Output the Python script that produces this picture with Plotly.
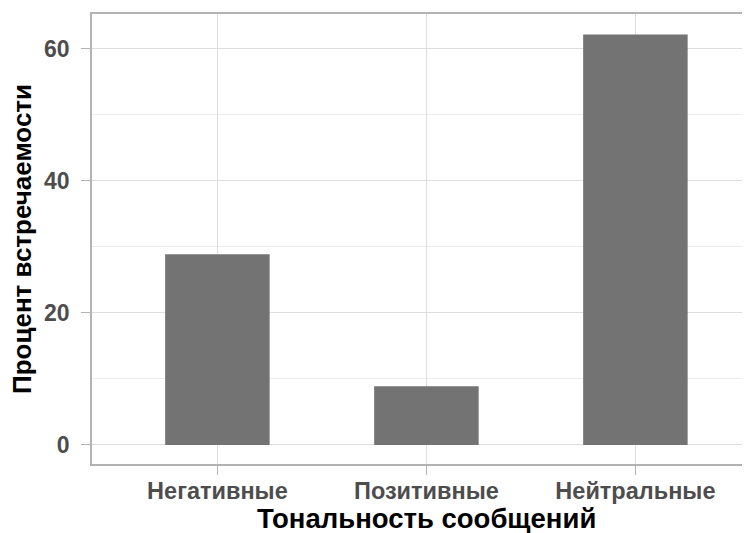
import plotly.graph_objects as go

categories = ["Негативные", "Позитивные", "Нейтральные"]
values = [28.9, 8.9, 62.2]
y_ticks = [0, 20, 40, 60]
y_minor = [10, 30, 50]
x_title = "Тональность сообщений"
y_title = "Процент встречаемости"

FONT = "Liberation Sans, Arial, sans-serif"

# the page body has an 8px margin, so the figure is sized/offset to compensate
W, H = 742, 525
ML, MT, MB = 84, 6, 69
PW = W - ML
PH = H - MT - MB

fig = go.Figure(go.Bar(
    x=list(range(len(categories))), y=values,
    width=0.5, marker=dict(color="#737373", line=dict(width=0)),
))

fig.update_layout(
    width=W, height=H,
    margin=dict(l=ML, r=0, t=MT, b=MB, autoexpand=False),
    paper_bgcolor="white", plot_bgcolor="white",
    showlegend=False,
    font=dict(family=FONT),
    annotations=[
        dict(text=x_title, xref="paper", yref="paper", x=(761 - 92) / 2 / PW, y=-54 / PH,
             xanchor="center", yanchor="middle", showarrow=False,
             font=dict(size=27.5, color="black", weight="bold")),
        dict(text=y_title, xref="paper", yref="paper", x=-70 / PW, y=0.5,
             xanchor="center", yanchor="middle", showarrow=False, textangle=-90,
             font=dict(size=26, color="black", weight="bold")),
    ],
)
fig.update_xaxes(
    range=[-0.6, -0.6 + PW / 209], automargin=False,
    tickmode="array", tickvals=list(range(len(categories))), ticktext=categories,
    showgrid=True, gridcolor="#dedede", gridwidth=1.3,
    ticks="outside", ticklen=9, tickcolor="#b3b3b3", tickwidth=1.3,
    tickfont=dict(size=23.5, color="#4d4d4d", weight="bold"),
    ticklabelstandoff=-4,
    showline=True, linecolor="#b3b3b3", linewidth=1.6, mirror=True,
    zeroline=False,
)
fig.update_yaxes(
    range=[-2.88, 65.3], automargin=False,
    tickmode="array", tickvals=y_ticks,
    showgrid=True, gridcolor="#dedede", gridwidth=1.3,
    minor=dict(tickvals=y_minor, showgrid=True, gridcolor="#ededed", gridwidth=1.1, ticks=""),
    ticks="outside", ticklen=9, tickcolor="#b3b3b3", tickwidth=1.3,
    tickfont=dict(size=23, color="#4d4d4d", weight="bold"),
    ticklabelstandoff=7,
    showline=True, linecolor="#b3b3b3", linewidth=1.6, mirror=False,
    zeroline=False,
)

fig.write_html("out.html")
